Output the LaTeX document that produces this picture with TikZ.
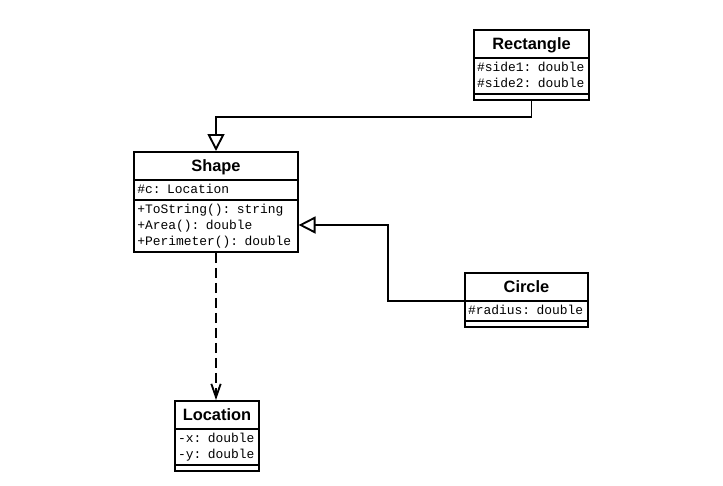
\documentclass[tikz,border=0pt]{standalone}
\usepackage{fontspec}
\setmainfont{Liberation Sans}
\setmonofont{Liberation Mono}
\usetikzlibrary{shapes.multipart,arrows.meta}

\newcommand{\clsname}[1]{\makebox[\hsize]{\rule[-4.6pt]{0pt}{18pt}\fontsize{12.3}{14}\selectfont\rmfamily\bfseries #1}}
\newcommand{\mb}[1]{\rule[-3.5pt]{0pt}{12pt}#1}
\newcommand{\nomethods}{\rule{0pt}{1.6pt}}

\begin{document}
\begin{tikzpicture}[x=0.75pt, y=-0.75pt, line width=1.4pt,
    umlclass/.style={draw, rectangle split, rectangle split parts=3, anchor=north,
        align=left, inner xsep=2.25pt, inner ysep=0.8pt,
        font=\ttfamily\fontsize{9.7}{12}\selectfont}]
        \useasboundingbox (0,0) rectangle (723,485);

        \node[umlclass, text width=118pt] (shape) at (216, 151)
            {\clsname{Shape}
             \nodepart{two}\mb{\#c: Location}
             \nodepart{three}\mb{+ToString(): string}\\\mb{+Area(): double}\\\mb{+Perimeter(): double}};
        \node[umlclass, text width=81.75pt] (rect) at (531.5, 29)
            {\clsname{Rectangle}
             \nodepart{two}\mb{\#side1: double}\\\mb{\#side2: double}
             \nodepart{three}\nomethods};
        \node[umlclass, text width=87.75pt] (circ) at (526.5, 272)
            {\clsname{Circle}
             \nodepart{two}\mb{\#radius: double}
             \nodepart{three}\nomethods};
        \node[umlclass, text width=58.5pt] (loc) at (217, 400)
            {\clsname{Location}
             \nodepart{two}\mb{-x: double}\\\mb{-y: double}
             \nodepart{three}\nomethods};

        \coordinate (rbend) at (216, 117);
        \coordinate (cbend) at (388, 225);

        \begin{scope}[every path/.style={-{Triangle[open, length=12.75pt, width=12.75pt]}}]
        \draw (rect.south) |- (rbend) -- (shape.north);
        \draw (circ.text split west) -| (cbend) -- (cbend -| shape.east);
        \end{scope}

        \draw[-{Straight Barb[length=10pt, width=7pt]}, dash pattern=on 7.5pt off 3.75pt]
            (shape.south) -- (shape.south |- loc.north);

        \end{tikzpicture}
\end{document}
